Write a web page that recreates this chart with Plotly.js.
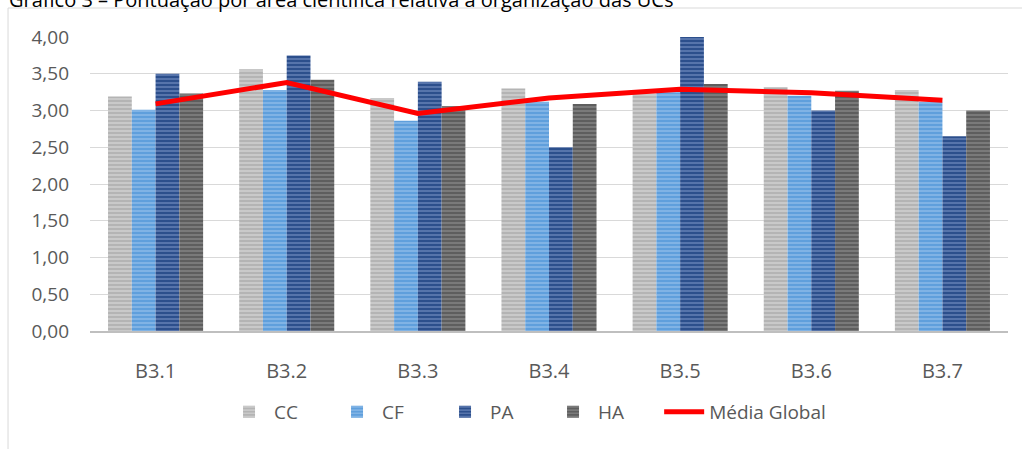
<!DOCTYPE html>
<html>
<head>
<meta charset="utf-8">
<script src="https://cdn.plot.ly/plotly-3.0.1.min.js"></script>
<style>html,body{margin:0;padding:0;background:#fff;}#chart{width:1022px;height:449px;}</style>
</head>
<body>
<div id="chart"></div>
<script>
const categories = ["B3.1", "B3.2", "B3.3", "B3.4", "B3.5", "B3.6", "B3.7"];
const ccValues = [3.19, 3.56, 3.17, 3.30, 3.23, 3.32, 3.28];
const cfValues = [3.01, 3.28, 2.86, 3.12, 3.25, 3.20, 3.12];
const paValues = [3.50, 3.75, 3.39, 2.50, 4.00, 3.00, 2.65];
const haValues = [3.23, 3.42, 3.06, 3.09, 3.36, 3.27, 3.00];
const mediaGlobal = [3.09, 3.38, 2.96, 3.17, 3.29, 3.24, 3.14];
const seriesNames = ["CC", "CF", "PA", "HA", "Média Global"];
const yTicks = [0, 0.5, 1, 1.5, 2, 2.5, 3, 3.5, 4];
const titleText = "Gráfico 3 – Pontuação por área científica relativa à organização das UCs";

const font = "Open Sans, Noto Sans, sans-serif";
const txt = "#595959";

function barTrace(name, vals, bg, fg) {
  return {
    type: "bar", name: name, x: categories, y: vals, legend: "legend",
    marker: {
      color: bg,
      line: {width: 0},
      pattern: {shape: "-", bgcolor: bg, fgcolor: fg, size: 4, solidity: 0.45, fillmode: "overlay"}
    },
    hoverinfo: "skip"
  };
}

const data = [
  barTrace(seriesNames[0], ccValues, "#b4b4b4", "#e2e2e2"),
  barTrace(seriesNames[1], cfValues, "#5f9fdc", "#a8cdf0"),
  barTrace(seriesNames[2], paValues, "#2c4f8c", "#8aa2d0"),
  barTrace(seriesNames[3], haValues, "#5e5e5e", "#9c9c9c"),
  {
    type: "scatter", mode: "lines", name: seriesNames[4], x: categories, y: mediaGlobal,
    legend: "legend2",
    line: {color: "#ff0000", width: 5},
    hoverinfo: "skip"
  }
];

const layout = {
  width: 1022, height: 449,
  margin: {l: 90, r: 14, t: 37, b: 118, autoexpand: false},
  paper_bgcolor: "#ffffff", plot_bgcolor: "#ffffff",
  separators: ",.",
  font: {family: font, size: 19, color: txt},
  barmode: "group",
  bargap: 0.275,
  bargroupgap: 0,
  showlegend: true,
  legend: {
    orientation: "h", x: 0.146, xanchor: "left", y: -0.275, yanchor: "middle",
    font: {family: font, size: 19, color: txt}, itemwidth: 40, traceorder: "normal",
    entrywidth: 53, entrywidthmode: "pixels"
  },
  legend2: {
    orientation: "h", x: 0.620, xanchor: "left", y: -0.275, yanchor: "middle",
    font: {family: font, size: 19, color: txt}, itemwidth: 40
  },
  xaxis: {
    type: "category", showgrid: false, zeroline: false,
    showline: true, linecolor: "#bfbfbf", linewidth: 2,
    ticks: "", ticklabelstandoff: 21,
    tickfont: {family: font, size: 20, color: txt}
  },
  yaxis: {
    range: [0, 4], tickvals: yTicks, tickformat: ".2f",
    showgrid: true, gridcolor: "#d9d9d9", gridwidth: 1,
    zeroline: false, showline: false, ticks: "", ticklabelstandoff: 20,
    tickfont: {family: font, size: 19, color: txt}
  },
  annotations: [{
    text: titleText, showarrow: false,
    xref: "paper", yref: "paper", x: -0.0904, xanchor: "left", y: 1.129, yanchor: "middle",
    font: {family: font, size: 20, color: "#000000"}
  }],
  shapes: [{
    type: "rect", xref: "paper", yref: "paper",
    x0: -0.0893, x1: 1.2, y0: -0.5, y1: 1.0986,
    line: {color: "#d9d9d9", width: 1}, layer: "below"
  }]
};

Plotly.newPlot("chart", data, layout, {staticPlot: true, displayModeBar: false});
</script>
</body>
</html>
